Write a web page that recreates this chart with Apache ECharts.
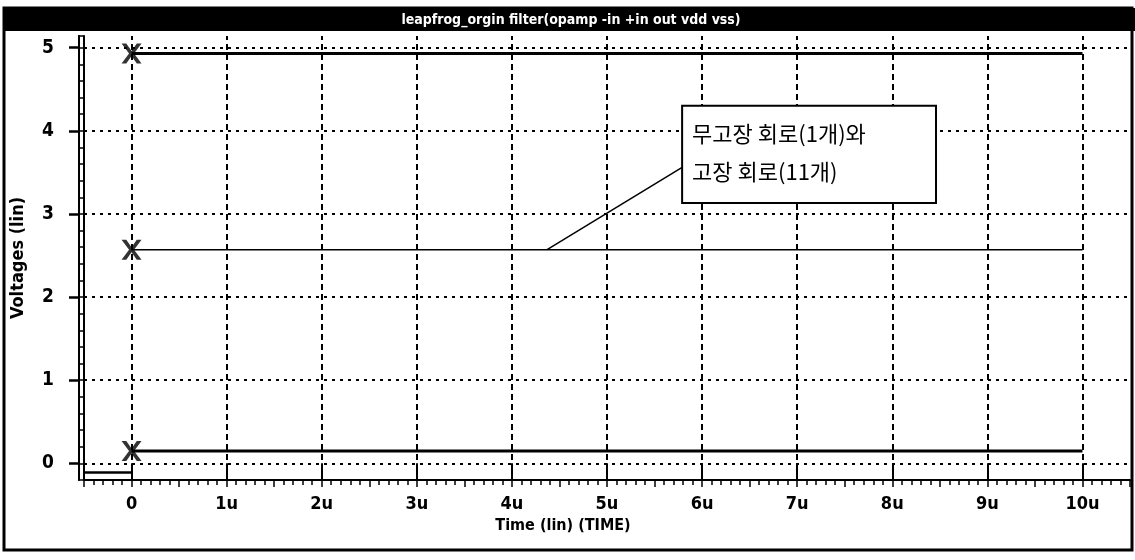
<!DOCTYPE html>
<html><head><meta charset="utf-8">
<script src="https://cdn.jsdelivr.net/npm/echarts@6/dist/echarts.min.js"></script>
<style>html,body{margin:0;padding:0;background:#fff}#c{width:1135px;height:560px}</style>
</head><body><div id="c"></div>
<script>
// ---- data ----
const titleText = 'leapfrog_orgin filter(opamp -in +in out vdd vss)';
const xAxisName = 'Time (lin) (TIME)';
const yAxisName = 'Voltages (lin)';
const noteLines = ['무고장 회로(1개)와', '고장 회로(11개)'];
const timeU = [0, 10];                 // microseconds
const upperTrace = [4.93, 4.93];
const middleTrace = [2.57, 2.57];
const lowerTrace = [0.15, 0.15];
const preTime = [-0.5, 0];
const preTrace = [-0.11, -0.11];
const xTickValues = [0, 1, 2, 3, 4, 5, 6, 7, 8, 9, 10];
const yTickValues = [0, 1, 2, 3, 4, 5];
const xRange = [-0.5, 10.5];
const yRange = [-0.2, 5.14];
const noteBox = { x0: 5.79, x1: 8.46, yTop: 4.30, yBottom: 3.13 };
const notePointer = [[4.37, 2.57], [5.79, 3.56]];

// ---- chart ----
const FONT = '"Liberation Sans Narrow", "DejaVu Sans Condensed", sans-serif';
const chart = echarts.init(document.getElementById('c'), null, { renderer: 'canvas' });
const isInt = v => Math.abs(v - Math.round(v)) < 1e-6;
const pair = (xs, ys) => xs.map((x, i) => [x, ys[i]]);
const xSymbol = 'path://M0,0 L3.8,0 L8,6 L12.2,0 L16,0 L10,8 L16,16 L12.2,16 L8,10 L3.8,16 L0,16 L6,8 Z';

const gridMarks = []
  .concat(yTickValues.map(v => ({ yAxis: v, lineStyle: { type: [3, 5], width: 2, color: '#000' } })))
  .concat(xTickValues.map(v => ({ xAxis: v, lineStyle: { type: [6, 4], width: 2, color: '#000' } })));

const option = {
  animation: false,
  backgroundColor: '#fff',
  grid: { left: 84, right: 5, top: 36, bottom: 80 },
  xAxis: [{
    type: 'value', min: xRange[0], max: xRange[1], interval: 0.5,
    name: xAxisName, nameLocation: 'middle', nameGap: 38,
    nameTextStyle: { fontFamily: FONT, fontWeight: 'bold', fontSize: 16, color: '#000', padding: [0, 88, 0, 0] },
    axisLine: { show: true, onZero: false, lineStyle: { color: '#000', width: 2 } },
    axisTick: { show: true, length: 7, lineStyle: { color: '#000', width: 1.5 } },
    minorTick: { show: true, splitNumber: 5, length: 5, lineStyle: { color: '#000', width: 1.5 } },
    axisLabel: { margin: 15, fontFamily: FONT, fontWeight: 'bold', fontSize: 18, color: '#000',
      formatter: v => isInt(v) ? (Math.round(v) === 0 ? '0' : Math.round(v) + 'u') : '' },
    splitLine: { show: false }
  }, {
    type: 'value', position: 'bottom', min: xRange[0], max: xRange[1], interval: 1,
    axisLine: { show: false },
    axisTick: { show: true, length: 12, customValues: xTickValues, lineStyle: { color: '#000', width: 2 } },
    axisLabel: { show: false }, splitLine: { show: false }
  }],
  yAxis: [{
    type: 'value', min: yRange[0], max: yRange[1], interval: 0.2,
    name: yAxisName, nameLocation: 'middle', nameGap: 57, nameRotate: 90,
    nameTextStyle: { fontFamily: FONT, fontWeight: 'bold', fontSize: 18, color: '#000' },
    axisLine: { show: true, onZero: false, lineStyle: { color: '#000', width: 2 } },
    axisTick: { show: true, length: 6, lineStyle: { color: '#000', width: 1.5 } },
    axisLabel: { margin: 30, fontFamily: FONT, fontWeight: 'bold', fontSize: 19, color: '#000',
      formatter: v => isInt(v) ? String(Math.round(v)) : '' },
    splitLine: { show: false }
  }, {
    type: 'value', position: 'left', offset: 5, min: yRange[0], max: yRange[1], interval: 1,
    axisLine: { show: true, onZero: false, lineStyle: { color: '#000', width: 2 } },
    axisTick: { show: true, length: 10, customValues: yTickValues, lineStyle: { color: '#000', width: 2.5 } },
    axisLabel: { show: false }, splitLine: { show: false }
  }],
  series: [
    { type: 'line', name: 'pre', data: pair(preTime, preTrace), symbol: 'none', z: 2,
      lineStyle: { color: '#000', width: 2.5 },
      markLine: { silent: true, symbol: 'none', label: { show: false }, animation: false, data: gridMarks } },
    { type: 'line', name: 'upper', data: pair(timeU, upperTrace), symbol: 'none', z: 3,
      lineStyle: { color: '#000', width: 3 } },
    { type: 'line', name: 'middle', data: pair(timeU, middleTrace), symbol: 'none', z: 3,
      lineStyle: { color: '#000', width: 1.5 },
      markLine: { silent: true, symbol: 'none', label: { show: false }, animation: false,
        lineStyle: { color: '#000', width: 1.5, type: 'solid' },
        data: [[{ coord: notePointer[0] }, { coord: notePointer[1] }]] } },
    { type: 'line', name: 'lower', data: pair(timeU, lowerTrace), symbol: 'none', z: 3,
      lineStyle: { color: '#000', width: 3 } },
    { type: 'scatter', name: 'markers', z: 4, symbol: xSymbol, symbolSize: 20,
      itemStyle: { color: '#000' },
      data: [[timeU[0], upperTrace[0]], [timeU[0], middleTrace[0]], [timeU[0], lowerTrace[0]]] }
  ]
};
chart.setOption(option);

// annotation box & frame, positioned through the chart's own scales
const p0 = chart.convertToPixel({ gridIndex: 0 }, [noteBox.x0, noteBox.yTop]);
const p1 = chart.convertToPixel({ gridIndex: 0 }, [noteBox.x1, noteBox.yBottom]);
chart.setOption({
  graphic: [
    { type: 'rect', shape: { x: 4, y: 8, width: 1128, height: 542 }, z: 0,
      style: { fill: 'none', stroke: '#000', lineWidth: 3 } },
    { type: 'rect', shape: { x: 4, y: 8, width: 1131, height: 23 }, z: 10,
      style: { fill: '#000' } },
    { type: 'text', x: 571, y: 20, z: 11,
      style: { text: titleText, fill: '#fff', font: 'bold 14px ' + FONT, align: 'center', verticalAlign: 'middle' } },
    { type: 'rect', shape: { x: p0[0], y: p0[1], width: p1[0] - p0[0], height: p1[1] - p0[1] }, z: 20,
      style: { fill: '#fff', stroke: '#000', lineWidth: 2 } },
    { type: 'text', x: p0[0] + 10, y: p0[1] + 28, z: 21,
      style: { text: noteLines[0], fill: '#000', font: '22px "Noto Sans CJK KR"', verticalAlign: 'middle' } },
    { type: 'text', x: p0[0] + 10, y: p0[1] + 66, z: 21,
      style: { text: noteLines[1], fill: '#000', font: '22px "Noto Sans CJK KR"', verticalAlign: 'middle' } }
  ]
});
</script>
</body></html>
